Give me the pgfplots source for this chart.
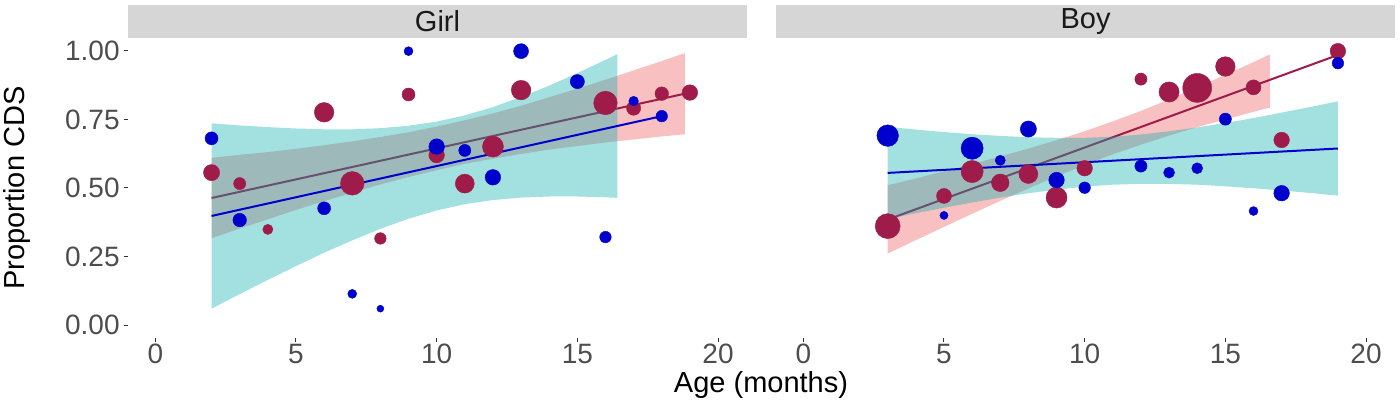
\documentclass[border=0pt]{standalone}
\usepackage{fontspec}
\setmainfont{Liberation Sans}
\usepackage{pgfplots}
\pgfplotsset{compat=1.18}
\definecolor{bluept}{RGB}{0,0,204}
\definecolor{maroonpt}{RGB}{158,27,74}
\definecolor{cyanbase}{RGB}{13,174,174}
\definecolor{pinkbase}{RGB}{237,97,97}
\definecolor{stripgray}{RGB}{214,214,214}
\definecolor{labgray}{RGB}{77,77,77}
\definecolor{tickgray}{RGB}{51,51,51}
\pgfplotsset{
  panel/.style={
    scale only axis, width=309.5pt, height=150pt,
    xmin=-0.97, xmax=21.03, ymin=-0.047, ymax=1.047,
    axis x line*=bottom, axis y line*=left,
    axis line style={draw=none},
    xtick={0,5,10,15,20},
    tick align=outside, major tick length=2pt,
    tick style={draw=tickgray, line width=0.5pt},
    ticklabel style={font=\fontsize{14}{14}\selectfont, text=labgray},
    xticklabel style={inner sep=0pt, anchor=north, yshift=-1pt},
    yticklabel style={inner sep=0pt, anchor=east, xshift=-2pt},
    /pgf/number format/assume math mode=true,
  },
  pts/.style={scatter, only marks, mark=*, color=#1,
    mark options={line width=0.2pt},
    scatter/use mapped color={draw=#1, fill=#1},
    visualization depends on={\thisrow{r}\as\rad},
    scatter/@pre marker code/.append style={/tikz/mark size=\rad}},
}
\begin{document}
\begin{tikzpicture}
\path[use as bounding box] (0,0) rectangle (700pt,200pt);
% strips
\fill[stripgray] (64pt,181pt) rectangle (373.5pt,197.5pt);
\fill[stripgray] (388pt,181pt) rectangle (697.5pt,197.5pt);
\node[font=\fontsize{14.5}{14.5}\selectfont, text={rgb,255:red,26;green,26;blue,26}] at (218.75pt,189.25pt) {Girl};
\node[font=\fontsize{14.5}{14.5}\selectfont, text={rgb,255:red,26;green,26;blue,26}] at (542.75pt,189.25pt) {Boy};
\node[font=\fontsize{14.5}{14.5}\selectfont] at (380.5pt,7.5pt) {Age (months)};
\node[font=\fontsize{14.5}{14.5}\selectfont, rotate=90] at (8.5pt,106pt) {Proportion CDS};

\begin{axis}[panel, at={(64pt,31pt)}, anchor=south west,
  ytick={0,0.25,0.5,0.75,1}, yticklabels={0.00,0.25,0.50,0.75,1.00}]
\addplot[fill=pinkbase, fill opacity=0.4, draw=none] coordinates {
(2,0.610)(3,0.621)(4,0.631)(5,0.643)(6,0.656)(7,0.670)(8,0.686)(9,0.703)(10,0.724)(11,0.747)(12,0.772)(13,0.800)(14,0.831)(15,0.862)(16,0.895)(17,0.929)(18,0.963)(18.82,0.992)
(18.82,0.696)(18,0.688)(17,0.677)(16,0.666)(15,0.653)(14,0.640)(13,0.624)(12,0.607)(11,0.588)(10,0.565)(9,0.540)(8,0.513)(7,0.483)(6,0.452)(5,0.420)(4,0.386)(3,0.352)(2,0.317)
} -- cycle;
\addplot[maroonpt, line width=1pt] coordinates {(2,0.4635)(19,0.848)};
\addplot[fill=cyanbase, fill opacity=0.38, draw=none] coordinates {
(2,0.736)(3,0.728)(4,0.722)(5,0.717)(6,0.714)(7,0.714)(8,0.718)(9,0.727)(10,0.742)(11,0.765)(12,0.795)(13,0.832)(14,0.873)(15,0.919)(16,0.967)(16.42,0.988)
(16.42,0.464)(16,0.466)(15,0.469)(14,0.469)(13,0.465)(12,0.456)(11,0.441)(10,0.418)(9,0.388)(8,0.351)(7,0.309)(6,0.264)(5,0.215)(4,0.165)(3,0.113)(2,0.060)
} -- cycle;
\addplot[bluept, line width=1pt] coordinates {(2,0.398)(18,0.762)};
\addplot[pts=maroonpt] table {
x y r
2 0.556 4.05
3 0.516 3.05
4 0.349 2.55
6 0.776 4.9
7 0.517 5.9
8 0.316 2.9
9 0.841 3.25
10 0.620 3.9
11 0.516 4.75
12 0.651 5.25
13 0.857 4.9
16 0.810 5.9
17 0.791 3.55
18 0.844 3.4
19 0.848 3.9
};
\addplot[pts=bluept] table {
x y r
2 0.681 3.25
3 0.383 3.4
6 0.426 3.25
7 0.114 2.25
8 0.060 1.75
9 0.999 2.25
10 0.651 3.9
11 0.637 3.05
12 0.539 3.9
13 0.999 3.75
15 0.888 3.55
16 0.321 2.9
17 0.817 2.4
18 0.762 2.9
};
\end{axis}

\begin{axis}[panel, at={(388pt,31pt)}, anchor=south west, ytick=\empty]
\addplot[fill=pinkbase, fill opacity=0.4, draw=none] coordinates {
(3,0.510)(4,0.535)(5,0.561)(6,0.587)(7,0.615)(8,0.644)(9,0.674)(10,0.707)(11,0.743)(12,0.781)(13,0.823)(14,0.867)(15,0.913)(16,0.959)(16.58,0.987)
(16.58,0.793)(16,0.778)(15,0.750)(14,0.722)(13,0.691)(12,0.658)(11,0.623)(10,0.584)(9,0.542)(8,0.498)(7,0.453)(6,0.406)(5,0.358)(4,0.310)(3,0.261)
} -- cycle;
\addplot[maroonpt, line width=1pt] coordinates {(3,0.385)(19,0.985)};
\addplot[fill=cyanbase, fill opacity=0.38, draw=none] coordinates {
(3,0.723)(4,0.713)(5,0.704)(6,0.696)(7,0.690)(8,0.685)(9,0.683)(10,0.683)(11,0.687)(12,0.695)(13,0.707)(14,0.721)(15,0.737)(16,0.755)(17,0.775)(18,0.795)(19,0.816)
(19,0.472)(18,0.482)(17,0.491)(16,0.499)(15,0.506)(14,0.512)(13,0.515)(12,0.515)(11,0.512)(10,0.505)(9,0.494)(8,0.481)(7,0.465)(6,0.447)(5,0.428)(4,0.408)(3,0.387)
} -- cycle;
\addplot[bluept, line width=1pt] coordinates {(3,0.555)(19,0.644)};
\addplot[pts=maroonpt] table {
x y r
3 0.361 6.25
5 0.471 3.75
6 0.560 5.55
7 0.519 4.4
8 0.551 4.75
9 0.465 5.25
10 0.572 3.9
12 0.897 3.05
13 0.850 5.05
14 0.865 7.25
15 0.943 4.9
16 0.867 3.75
17 0.675 3.9
19 0.999 3.9
};
\addplot[pts=bluept] table {
x y r
3 0.691 5.4
5 0.400 2.05
6 0.645 5.55
7 0.601 2.55
8 0.715 4.05
9 0.529 3.9
10 0.501 2.9
12 0.580 3.05
13 0.556 2.75
14 0.572 2.75
15 0.751 3.05
16 0.416 2.25
17 0.481 3.9
19 0.955 2.9
};
\end{axis}
\end{tikzpicture}
\end{document}
